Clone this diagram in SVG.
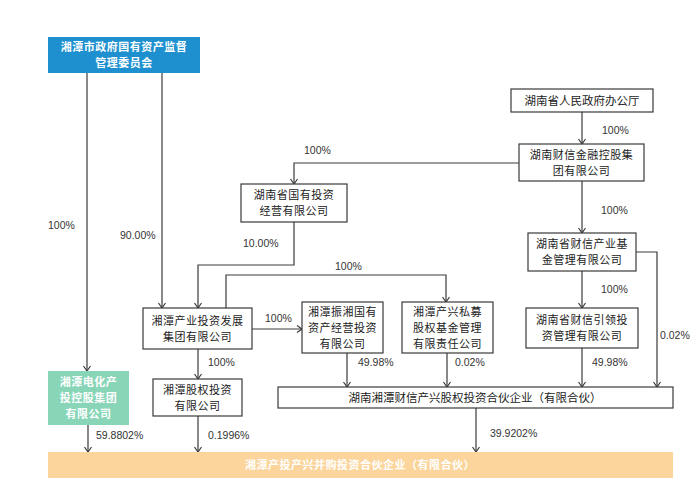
<svg xmlns="http://www.w3.org/2000/svg" width="700" height="487" viewBox="0 0 700 487">
<defs>
<style>
.bx{fill:#fff;stroke:#3a3a3a;stroke-width:1.2}
.t{font-family:"Noto Sans CJK SC","Noto Sans",sans-serif;font-size:11px;letter-spacing:0.5px;fill:#222;text-anchor:middle}
.t1{font-family:"Noto Sans CJK SC","Noto Sans",sans-serif;font-size:11.5px;fill:#222;text-anchor:middle}
.tw{font-family:"Noto Sans CJK SC","Noto Sans",sans-serif;font-size:11px;letter-spacing:0.5px;fill:#fff;text-anchor:middle;font-weight:bold}
.p{font-family:"Liberation Sans",Arial,sans-serif;font-size:10.5px;fill:#333}
.c{fill:none;stroke:#3a3a3a;stroke-width:1.2}
</style>
<marker id="arr" viewBox="-6 -5 7 10" refX="0" refY="0" markerWidth="7" markerHeight="10" markerUnits="userSpaceOnUse" orient="auto" overflow="visible">
<path d="M-5,-3.5 L0,0 L-5,3.5" fill="none" stroke="#3a3a3a" stroke-width="1.2"/>
</marker>
</defs>
<rect width="700" height="487" fill="#fff"/>

<g id="connectors">
<path class="c" d="M87,73 V371" marker-end="url(#arr)"/>
<path class="c" d="M162,73 V308" marker-end="url(#arr)"/>
<path class="c" d="M294,222 V265 H198 V308" marker-end="url(#arr)"/>
<path class="c" d="M519,163 H294 V184" marker-end="url(#arr)"/>
<path class="c" d="M582,112 V144" marker-end="url(#arr)"/>
<path class="c" d="M582,181 V233" marker-end="url(#arr)"/>
<path class="c" d="M636,252 H657 V387" marker-end="url(#arr)"/>
<path class="c" d="M582,271 V308" marker-end="url(#arr)"/>
<path class="c" d="M582,348 V387" marker-end="url(#arr)"/>
<path class="c" d="M226,308 V275 H446 V302" marker-end="url(#arr)"/>
<path class="c" d="M252,329 H302" marker-end="url(#arr)"/>
<path class="c" d="M198,349 V379" marker-end="url(#arr)"/>
<path class="c" d="M347,353 V387" marker-end="url(#arr)"/>
<path class="c" d="M447,353 V387" marker-end="url(#arr)"/>
<path class="c" d="M88,425 V452" marker-end="url(#arr)"/>
<path class="c" d="M198,416 V452" marker-end="url(#arr)"/>
<path class="c" d="M476,408 V452" marker-end="url(#arr)"/>
</g>

<g id="labels">
<text class="p" x="48" y="229">100%</text>
<text class="p" x="120" y="239">90.00%</text>
<text class="p" x="304" y="154">100%</text>
<text class="p" x="243" y="247">10.00%</text>
<text class="p" x="335" y="270">100%</text>
<text class="p" x="265" y="322">100%</text>
<text class="p" x="208" y="366">100%</text>
<text class="p" x="358" y="366">49.98%</text>
<text class="p" x="455" y="366">0.02%</text>
<text class="p" x="602" y="134">100%</text>
<text class="p" x="601" y="214">100%</text>
<text class="p" x="601" y="293">100%</text>
<text class="p" x="660" y="339">0.02%</text>
<text class="p" x="592" y="366">49.98%</text>
<text class="p" x="96" y="439">59.8802%</text>
<text class="p" x="208" y="439">0.1996%</text>
<text class="p" x="490" y="437">39.9202%</text>
</g>

<g id="n-sasac">
<rect x="48" y="37" width="152" height="36" fill="#1e8fcf"/>
<text class="tw" x="124" y="51">湘潭市政府国有资产监督</text>
<text class="tw" x="124" y="67">管理委员会</text>
</g>

<g id="n-dianhua">
<rect x="48" y="371" width="81" height="54" fill="#88d5b8"/>
<text class="tw" x="88.5" y="386">湘潭电化产</text>
<text class="tw" x="88.5" y="402">投控股集团</text>
<text class="tw" x="88.5" y="418">有限公司</text>
</g>

<g id="n-chanye">
<rect class="bx" x="143" y="308" width="109" height="41"/>
<text class="t" x="197.5" y="324.5">湘潭产业投资发展</text>
<text class="t" x="197.5" y="340.5">集团有限公司</text>
</g>

<g id="n-guquan">
<rect class="bx" x="153" y="379" width="89" height="37"/>
<text class="t" x="197.5" y="393.5">湘潭股权投资</text>
<text class="t" x="197.5" y="409.5">有限公司</text>
</g>

<g id="n-hngy">
<rect class="bx" x="241" y="184" width="106" height="38"/>
<text class="t" x="294" y="199">湖南省国有投资</text>
<text class="t" x="294" y="215">经营有限公司</text>
</g>

<g id="n-zhenxiang">
<rect class="bx" x="302" y="302" width="81" height="51"/>
<text class="t" x="342.5" y="315.5">湘潭振湘国有</text>
<text class="t" x="342.5" y="331.5">资产经营投资</text>
<text class="t" x="342.5" y="347.5">有限公司</text>
</g>

<g id="n-simu">
<rect class="bx" x="402" y="302" width="91" height="51"/>
<text class="t" x="447.5" y="315.5">湘潭产兴私募</text>
<text class="t" x="447.5" y="331.5">股权基金管理</text>
<text class="t" x="447.5" y="347.5">有限责任公司</text>
</g>

<g id="n-office">
<rect class="bx" x="511" y="89" width="142" height="23"/>
<text class="t1" x="582" y="105">湖南省人民政府办公厅</text>
</g>

<g id="n-caixin">
<rect class="bx" x="519" y="144" width="125" height="37"/>
<text class="t" x="581.5" y="158.5">湖南财信金融控股集</text>
<text class="t" x="581.5" y="174.5">团有限公司</text>
</g>

<g id="n-jijin">
<rect class="bx" x="528" y="233" width="108" height="38"/>
<text class="t" x="582" y="248">湖南省财信产业基</text>
<text class="t" x="582" y="264">金管理有限公司</text>
</g>

<g id="n-yinling">
<rect class="bx" x="526" y="308" width="112" height="40"/>
<text class="t" x="582" y="324">湖南省财信引领投</text>
<text class="t" x="582" y="340">资管理有限公司</text>
</g>

<g id="n-hehuo">
<rect class="bx" x="278" y="387" width="395" height="21"/>
<text class="t1" x="475" y="402">湖南湘潭财信产兴股权投资合伙企业（有限合伙）</text>
</g>

<g id="n-target">
<rect x="48" y="452" width="625" height="26" fill="#fbd59c"/>
<text class="tw" x="360" y="469">湘潭产投产兴并购投资合伙企业（有限合伙）</text>
</g>
</svg>
